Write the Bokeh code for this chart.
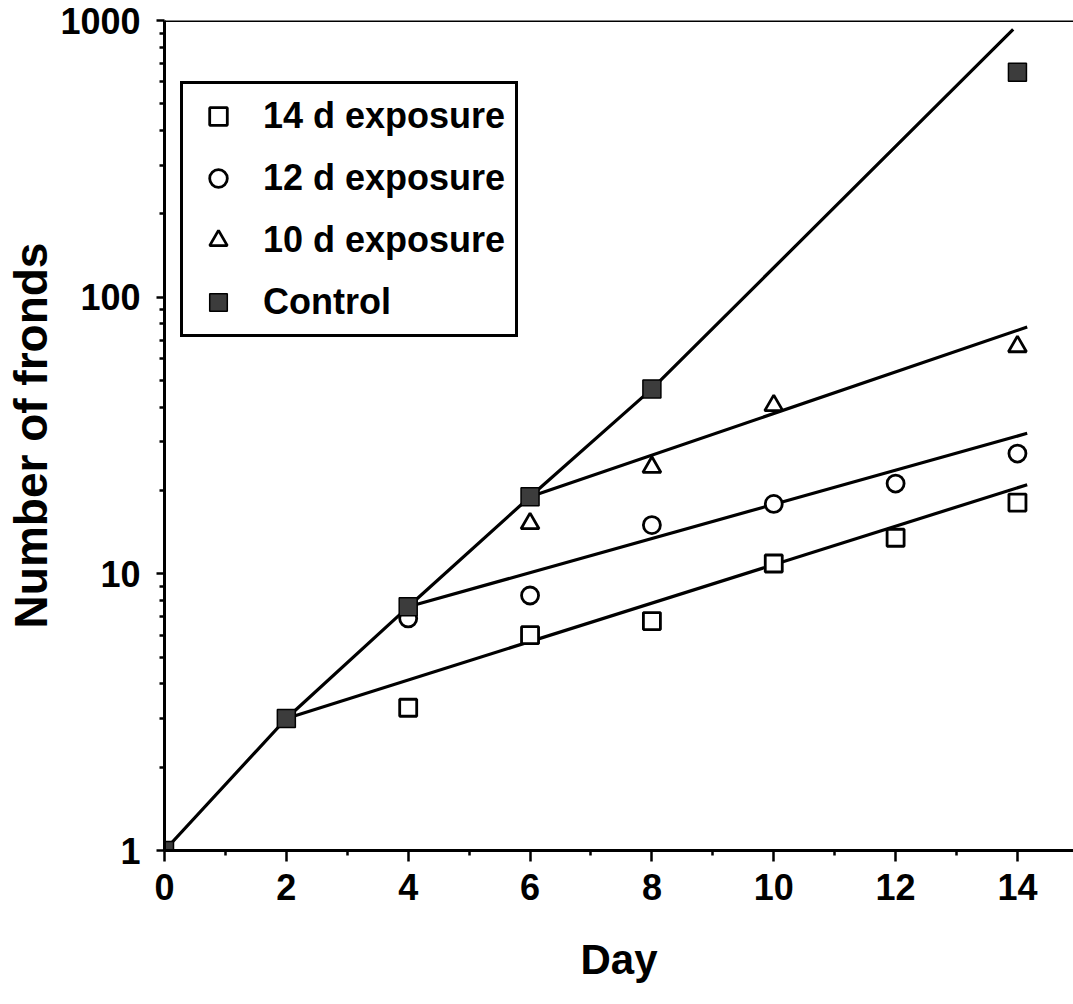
from bokeh.plotting import figure
from bokeh.models import Range1d, FixedTicker, Span, Legend, LegendItem, PrintfTickFormatter
from bokeh.embed import file_html
from bokeh.resources import INLINE

# ---- data ----
days_control = [0, 2, 4, 6, 8, 14]
fronds_control = [1.0, 3.0, 7.6, 19.0, 46.6, 650.0]

days_14d = [4, 6, 8, 10, 12, 14]
fronds_14d = [3.28, 6.0, 6.75, 10.9, 13.5, 18.1]

days_12d = [4, 6, 8, 10, 12, 14]
fronds_12d = [6.9, 8.35, 15.0, 17.9, 21.2, 27.2]

days_10d = [6, 8, 10, 14]
fronds_10d = [15.2, 24.3, 40.6, 66.3]

# fitted growth lines
fit_control_x = [0, 2, 4, 6, 8, 13.93]
fit_control_y = [1.0, 3.0, 7.6, 19.0, 46.6, 928.0]
fit_14d_x = [2, 14.16]
fit_14d_y = [3.0, 21.0]
fit_12d_x = [4, 14.16]
fit_12d_y = [7.6, 32.2]
fit_10d_x = [6, 14.16]
fit_10d_y = [19.0, 78.0]

series_labels = ["14 d exposure", "12 d exposure", "10 d exposure", "Control"]

x_major_ticks = [0, 2, 4, 6, 8, 10, 12, 14]
x_minor_ticks = [1, 3, 5, 7, 9, 11, 13]
y_major_ticks = [1, 10, 100, 1000]
y_minor_ticks = [2, 3, 4, 5, 6, 7, 8, 9,
                 20, 30, 40, 50, 60, 70, 80, 90,
                 200, 300, 400, 500, 600, 700, 800, 900]

x_start, x_end = 0, 14.92
y_start, y_end = 1, 1000

FONT = "Liberation Sans"

p = figure(width=1073, height=1004, y_axis_type="log",
           x_range=Range1d(x_start, x_end), y_range=Range1d(y_start, y_end),
           output_backend="svg", toolbar_location=None,
           min_border_left=164, min_border_right=0,
           min_border_top=20, min_border_bottom=154)
p.grid.visible = False
p.outline_line_color = None
p.background_fill_color = "white"
p.border_fill_color = "white"

xa = p.xaxis[0]
ya = p.yaxis[0]
xa.ticker = FixedTicker(ticks=x_major_ticks, minor_ticks=x_minor_ticks)
ya.ticker = FixedTicker(ticks=y_major_ticks, minor_ticks=y_minor_ticks)
ya.formatter = PrintfTickFormatter(format="%d")

for ax in (xa, ya):
    ax.axis_line_color = "black"
    ax.axis_line_width = 3
    ax.major_tick_line_color = "black"
    ax.major_tick_line_width = 2.5
    ax.minor_tick_line_color = "black"
    ax.minor_tick_line_width = 2.5
    ax.major_tick_in = 0
    ax.minor_tick_in = 0
    ax.major_label_text_font = FONT
    ax.major_label_text_font_style = "bold"
    ax.major_label_text_font_size = "36px"
    ax.major_label_text_color = "black"
    ax.axis_label_text_font = FONT
    ax.axis_label_text_font_style = "bold"
    ax.axis_label_text_color = "black"

xa.major_tick_out = 11
xa.minor_tick_out = 5
xa.major_label_standoff = 12
xa.axis_label = "Day"
xa.axis_label_text_font_size = "42px"
xa.axis_label_standoff = 33

ya.major_tick_out = 8
ya.minor_tick_out = 5
ya.major_label_standoff = 16
ya.axis_label = "Number of fronds"
ya.axis_label_text_font_size = "46px"
ya.axis_label_standoff = 0

p.add_layout(Span(location=y_end, dimension="width", line_color="black", line_width=3))

line_kw = dict(line_color="black", line_width=3.2)
p.line(fit_control_x, fit_control_y, **line_kw)
p.line(fit_14d_x, fit_14d_y, **line_kw)
p.line(fit_12d_x, fit_12d_y, **line_kw)
p.line(fit_10d_x, fit_10d_y, **line_kw)

r14 = p.scatter(days_14d, fronds_14d, marker="square", size=17,
                fill_color="white", line_color="black", line_width=2.8)
r12 = p.scatter(days_12d, fronds_12d, marker="circle", size=17,
                fill_color="white", line_color="black", line_width=2.8)
r10 = p.scatter(days_10d, fronds_10d, marker="triangle", size=18,
                fill_color="white", line_color="black", line_width=2.8)
rc = p.scatter(days_control, fronds_control, marker="square", size=18,
               fill_color="#3c3c3c", line_color="black", line_width=1.5)

legend = Legend(items=[LegendItem(label=lab, renderers=[r])
                       for lab, r in zip(series_labels, [r14, r12, r10, rc])],
                location=(16, 513))
legend.border_line_color = "black"
legend.border_line_width = 3
legend.border_line_alpha = 1
legend.background_fill_color = "white"
legend.background_fill_alpha = 1
legend.label_text_font = FONT
legend.label_text_font_style = "bold"
legend.label_text_font_size = "36px"
legend.label_text_color = "black"
legend.glyph_width = 50
legend.glyph_height = 44
legend.label_height = 44
legend.label_standoff = 20
legend.padding = 10
legend.spacing = 18
legend.margin = 0
p.add_layout(legend)

open("out.html", "w").write(file_html(p, INLINE))
